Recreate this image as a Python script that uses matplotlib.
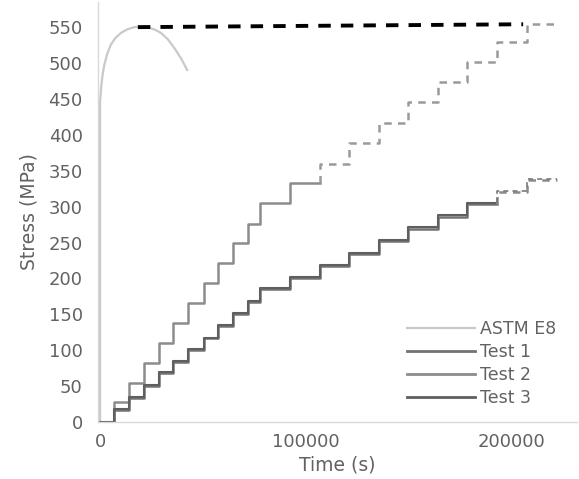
import matplotlib
matplotlib.use("Agg")
import matplotlib.pyplot as plt
from matplotlib.lines import Line2D

plt.rcParams['font.family'] = ['DejaVu Sans']

# ---- data ----
step_times = [0, 6800, 14300, 21500, 28600, 35700, 43000, 50500, 57600, 64800,
              72000, 78000, 92500, 107000, 121300, 135600, 149900, 164200,
              178700, 193100, 207600, 222300]
test2 = [0, 28, 54, 82.6, 109.6, 138, 166, 194, 222, 250, 276, 305, 333,
         360, 389, 417, 446, 474, 502, 529, 555, 555]
test1 = [0, 16.7, 34, 50, 68, 84, 100, 116.5, 133.7, 151, 167.5, 184.7, 200,
         217, 234, 252, 269, 286, 303, 320, 337, 337]
test3 = [0, 17.5, 35, 51, 69, 85, 101, 117.5, 135, 152.5, 169, 186, 201.5,
         218.5, 236, 254, 271, 288, 305, 321.5, 338.5, 338.5]
test2_dash_from = 13    # index of first jump drawn dashed
test13_dash_from = 19

astm_t = [0, 0, 500, 1200, 2100, 3500, 5300, 7500, 10200, 13300, 16700,
          20500, 24000, 27000, 29600, 33000, 36100, 39500, 42600]
astm_s = [0, 445, 465, 483, 498, 513, 526, 535, 542, 547, 550,
          550.5, 549, 546, 542, 533, 521, 506, 489]

trend_t = [18400, 205800]
trend_s = [550, 554]

yticks = [0, 50, 100, 150, 200, 250, 300, 350, 400, 450, 500, 550]
xticks = [0, 100000, 200000]


def step_path(times, levels, start, stop):
    """Polyline of a post-step series between time indices start..stop."""
    xs, ys = [times[start]], [levels[start - 1] if start > 0 else levels[0]]
    for i in range(start, stop):
        xs += [times[i], times[i + 1]]
        ys += [levels[i], levels[i]]
    return xs, ys


# ---- figure ----
fig = plt.figure(figsize=(5.79, 4.79), dpi=100)
ax = fig.add_axes([98/579, 1 - 422/479, (577-98)/579, (422-2)/479])

c_astm = '#c9c9c9'
c_t1 = '#727272'
c_t2 = '#8c8c8c'
c_t3 = '#5f5f5f'
c_text = '#626262'

ax.plot(astm_t, astm_s, color=c_astm, lw=1.6, solid_capstyle='butt')

# black dashed trend
ax.plot(trend_t, trend_s, color='black', lw=2.8, dashes=(3.2, 2.6))

n = len(step_times) - 1
# Test 2
x, y = step_path(step_times, test2, 0, test2_dash_from)
ax.plot(x[1:], y[1:], color=c_t2, lw=1.8)
x, y = step_path(step_times, test2, test2_dash_from, n)
ax.plot(x, y, color='#9a9a9a', lw=1.8, dashes=(3, 2.5))
# Test 1 & 3
x, y = step_path(step_times, test1, 0, test13_dash_from)
ax.plot(x[1:], y[1:], color=c_t1, lw=1.8)
x, y = step_path(step_times, test3, 0, test13_dash_from)
ax.plot(x[1:], y[1:], color=c_t3, lw=1.5)
x, y = step_path(step_times, test1, test13_dash_from, n)
ax.plot(x, y, color='#8a8a8a', lw=1.8, dashes=(3, 2.5))
x, y = step_path(step_times, test3, test13_dash_from, n)
ax.plot(x, y, color='#7a7a7a', lw=1.2, dashes=(3, 2.5))

ax.set_xlim(-1000, 232000)
ax.set_ylim(0, 585)
ax.set_xticks(xticks)
ax.set_xticklabels([str(v) for v in xticks])
ax.set_yticks(yticks)

for s in ['top', 'right']:
    ax.spines[s].set_visible(False)
for s in ['left', 'bottom']:
    ax.spines[s].set_color('#d9d9d9')
    ax.spines[s].set_linewidth(1.0)

ax.tick_params(axis='both', length=0, colors=c_text, labelsize=13)
ax.tick_params(axis='y', pad=11)
ax.tick_params(axis='x', pad=8)

ax.set_xlabel('Time (s)', fontsize=13.5, color=c_text, labelpad=3)
ax.set_ylabel('Stress (MPa)', fontsize=13.5, color=c_text, labelpad=7)

handles = [Line2D([], [], color=c_astm, lw=1.6),
           Line2D([], [], color=c_t1, lw=2.0),
           Line2D([], [], color=c_t2, lw=2.0),
           Line2D([], [], color=c_t3, lw=2.0)]
labels = ['ASTM E8', 'Test 1', 'Test 2', 'Test 3']
leg = fig.legend(handles, labels, loc='upper left',
                 bbox_to_anchor=(407/579, 1 - 320/479),
                 frameon=False, fontsize=12.5, handlelength=3.9,
                 handletextpad=0.3, labelspacing=0.28, borderpad=0,
                 borderaxespad=0)
for t in leg.get_texts():
    t.set_color(c_text)

fig.savefig('out.png', dpi=100)
